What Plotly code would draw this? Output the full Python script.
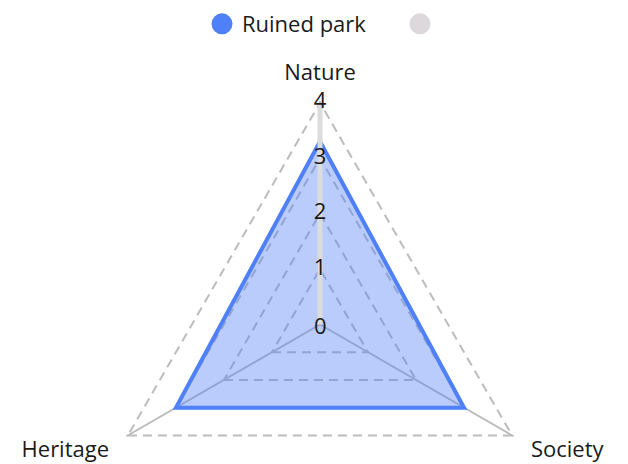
import plotly.graph_objects as go

# Radar data for the single park profile
axis_labels = ["Nature", "Society", "Heritage"]
park_scores = [3.3, 3, 3]
series_name = "Ruined park"
other_name = "\u00a0"  # second series has no visible label
tick_values = [0, 1, 2, 3, 4]
tick_text = ["0", "1", "2", "3", "4"]
radial_range = [0, 4.03]  # a hair past the last tick so its ring is still drawn

# angular labels: the top one is lifted a little, the lower ones padded
# on the side that faces the chart
NBSP = "\u00a0"
angular_text = [
    "<sup><span style='font-size:22px'>Nature</span></sup>",
    NBSP * 2 + "Society",
    "Heritage" + NBSP * 2,
]

BLUE = "#4f80f7"
FILL = "rgba(79,128,247,0.4)"
GRID = "#bcbcbc"
SPINE = "#dcdcdc"
TEXT = "#1a1a1a"
FONT = "Open Sans"
FSIZE = 22

fig = go.Figure()

# filled score polygon (closed back to the first axis)
fig.add_trace(go.Scatterpolar(
    r=park_scores + park_scores[:1],
    theta=axis_labels + axis_labels[:1],
    mode="lines",
    fill="toself",
    fillcolor=FILL,
    line=dict(color=BLUE, width=4),
    name=series_name,
    showlegend=False,
    hoverinfo="skip",
))

# radial scale spine along the first axis, drawn over the fill
fig.add_trace(go.Scatterpolar(
    r=[tick_values[0], tick_values[-1]],
    theta=[axis_labels[0]] * 2,
    mode="lines",
    line=dict(color=SPINE, width=5),
    showlegend=False,
    hoverinfo="skip",
))

# radial tick labels centred on the spine (the origin label is added below)
fig.add_trace(go.Scatterpolar(
    r=tick_values[1:],
    theta=[axis_labels[0]] * (len(tick_values) - 1),
    mode="text",
    text=tick_text[1:],
    textposition="middle center",
    textfont=dict(family=FONT, size=FSIZE, color=TEXT),
    showlegend=False,
    hoverinfo="skip",
))

# legend entries (round swatches)
fig.add_trace(go.Scatterpolar(
    r=[None], theta=[axis_labels[0]], mode="markers", name=series_name,
    marker=dict(color=BLUE, size=16, line=dict(color=BLUE, width=5)),
))
fig.add_trace(go.Scatterpolar(
    r=[None], theta=[axis_labels[0]], mode="markers", name=other_name,
    marker=dict(color="#dcd8dc", size=16, line=dict(color="#dcd8dc", width=5)),
))

# origin tick label: the polar origin sits at the centre of the subplot domain
fig.add_annotation(
    xref="paper", yref="paper", x=0.5, y=0.5,
    xanchor="center", yanchor="middle",
    text=tick_text[0], showarrow=False,
    font=dict(family=FONT, size=FSIZE, color=TEXT),
)

fig.update_layout(
    width=628,
    height=548,
    margin=dict(l=12, r=0, t=101, b=0, autoexpand=False),
    paper_bgcolor="white",
    font=dict(family=FONT, size=FSIZE, color=TEXT),
    showlegend=True,
    legend=dict(
        orientation="h",
        xref="container", x=202 / 628, xanchor="left",
        yref="container", y=1 - 24 / 548, yanchor="middle",
        entrywidth=153,
        font=dict(family=FONT, size=FSIZE, color=TEXT),
    ),
    polar=dict(
        domain=dict(x=[0, 1], y=[0, 1]),
        bgcolor="rgba(0,0,0,0)",
        gridshape="linear",
        radialaxis=dict(
            range=radial_range,
            tickvals=tick_values,
            showticklabels=False,
            ticks="",
            showline=False,
            gridcolor=GRID,
            gridwidth=2,
            griddash="9px,6px",
            angle=90,
        ),
        angularaxis=dict(
            categoryorder="array",
            categoryarray=axis_labels,
            tickmode="array",
            tickvals=axis_labels,
            ticktext=angular_text,
            direction="clockwise",
            rotation=90,
            showline=False,
            ticks="outside",
            ticklen=2,
            tickcolor="rgba(0,0,0,0)",
            gridcolor=GRID,
            gridwidth=2,
            tickfont=dict(family=FONT, size=FSIZE, color=TEXT),
        ),
    ),
)

fig.write_html("out.html")
